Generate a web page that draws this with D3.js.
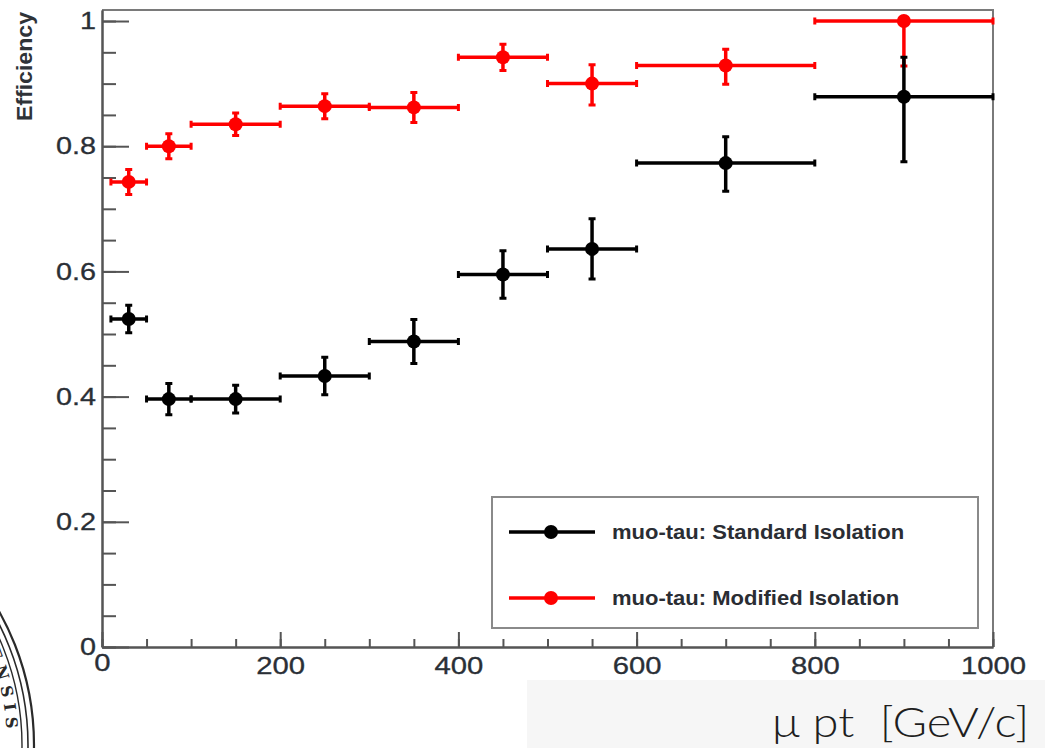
<!DOCTYPE html>
<html>
<head>
<meta charset="utf-8">
<script src="https://cdn.jsdelivr.net/npm/d3@7"></script>
<style>
  body { margin: 0; background: #fff; }
  svg { display: block; }
</style>
</head>
<body>
<div id="chart-area"></div>
<script>
// bins in muon pt (GeV/c)
var binLo = [10, 50, 100, 200, 300, 400, 500, 600, 800];
var binHi = [50, 100, 200, 300, 400, 500, 600, 800, 1000];
var ptCenter = [30, 75, 150, 250, 350, 450, 550, 700, 900];

// muo-tau: Standard Isolation
var stdEff = [0.524, 0.396, 0.396, 0.433, 0.488, 0.595, 0.636, 0.773, 0.879];
var stdErrLo = [0.022, 0.025, 0.022, 0.03, 0.035, 0.038, 0.048, 0.045, 0.104];
var stdErrHi = [0.022, 0.025, 0.022, 0.03, 0.035, 0.038, 0.048, 0.042, 0.063];

// muo-tau: Modified Isolation
var modEff = [0.743, 0.8, 0.835, 0.864, 0.862, 0.942, 0.9, 0.929, 1.0];
var modErrLo = [0.02, 0.02, 0.018, 0.02, 0.024, 0.021, 0.034, 0.03, 0.072];
var modErrHi = [0.02, 0.02, 0.018, 0.02, 0.024, 0.021, 0.03, 0.026, 0.0];

var xMajor = [0, 200, 400, 600, 800, 1000];
var yMajor = [0, 0.2, 0.4, 0.6, 0.8, 1];
var legendLabels = ['muo-tau: Standard Isolation', 'muo-tau: Modified Isolation'];

var W = 1045, H = 748;
var frame = {left: 102, right: 993, top: 10, bottom: 647};

var svg = d3.select('#chart-area')
  .append('svg')
  .attr('width', W)
  .attr('height', H);

var x = d3.scaleLinear().domain([0, 1000]).range([frame.left, frame.right]);
var y = d3.scaleLinear().domain([0, 1.0176]).range([frame.bottom, frame.top]);

// widen labels a bit (the source picture is stretched sideways)
function stretch(sel, k) {
  sel.each(function () {
    var w = this.getComputedTextLength();
    d3.select(this).attr('textLength', w * k).attr('lengthAdjust', 'spacingAndGlyphs');
  });
}

// grey strip behind the x title
svg.append('rect')
  .attr('x', 527).attr('y', 680)
  .attr('width', W - 527).attr('height', H - 680)
  .attr('fill', '#f6f6f6');

// frame top / right
svg.append('path')
  .attr('d', 'M' + frame.left + ',' + frame.top + 'H' + frame.right + 'V' + frame.bottom)
  .attr('fill', 'none')
  .attr('stroke', '#7a7a7a')
  .attr('stroke-width', 2);

// minor ticks
var xMinorAxis = d3.axisBottom(x).tickValues(d3.range(0, 1001, 50))
  .tickSizeInner(-8).tickSizeOuter(0).tickFormat('');
svg.append('g')
  .attr('transform', 'translate(0,' + frame.bottom + ')')
  .call(xMinorAxis);

var yMinorAxis = d3.axisLeft(y).tickValues(d3.range(0, 1.001, 0.05))
  .tickSizeInner(-14).tickSizeOuter(0).tickFormat('');
svg.append('g')
  .attr('transform', 'translate(' + frame.left + ',0)')
  .call(yMinorAxis);

// major ticks + labels
var xAxisCall = d3.axisBottom(x).tickValues(xMajor)
  .tickSizeInner(-15).tickSizeOuter(0).tickPadding(10)
  .tickFormat(d3.format('d'));
var xg = svg.append('g')
  .attr('class', 'x-axis')
  .attr('transform', 'translate(0,' + frame.bottom + ')')
  .call(xAxisCall);

var yAxisCall = d3.axisLeft(y).tickValues(yMajor)
  .tickSizeInner(-27).tickSizeOuter(0).tickPadding(6)
  .tickFormat(function (d) { return d === 0 ? '0' : d === 1 ? '1' : d3.format('.1f')(d); });
var yg = svg.append('g')
  .attr('class', 'y-axis')
  .attr('transform', 'translate(' + frame.left + ',0)')
  .call(yAxisCall);

svg.selectAll('.tick line, .domain')
  .attr('stroke', '#555')
  .attr('stroke-width', 2);

svg.selectAll('.x-axis text, .y-axis text')
  .attr('fill', '#2a2f36')
  .attr('stroke', '#2a2f36')
  .attr('stroke-width', 0.3)
  .attr('font-family', 'Liberation Sans, Arial, sans-serif')
  .attr('font-size', '24px');
stretch(xg.selectAll('text'), 1.22);
stretch(yg.selectAll('text'), 1.2);
xg.selectAll('text').filter(function (d) { return d === 0; }).attr('dy', '0.6em');

// y title
var yTitle = svg.append('text')
  .attr('transform', 'translate(32,12) rotate(-90)')
  .attr('text-anchor', 'end')
  .attr('font-family', 'Liberation Sans, Arial, sans-serif')
  .attr('font-weight', 'bold')
  .attr('font-size', '22px')
  .attr('fill', '#2f3338')
  .text('Efficiency');
stretch(yTitle, 1.05);

// x title
var xTitle = svg.append('text')
  .attr('x', 772).attr('y', 737)
  .attr('font-family', 'Lato, Roboto, sans-serif')
  .attr('font-weight', 300)
  .attr('font-size', '42px')
  .attr('fill', '#1e1e1e')
  .style('white-space', 'pre')
  .text('\u03bc pt\u00a0 [GeV/c]');
stretch(xTitle, 1.12);

// data points with error bars
function drawSeries(vals, lo, hi, color) {
  var rows = vals.map(function (v, i) {
    return {x0: binLo[i], x1: binHi[i], xc: ptCenter[i], v: v, lo: v - lo[i], hi: v + hi[i]};
  });
  var g = svg.append('g')
    .attr('stroke', color)
    .attr('fill', color)
    .attr('stroke-width', 3.5);
  var pts = g.selectAll('g').data(rows).enter().append('g');
  pts.append('line')
    .attr('x1', function (d) { return x(d.x0); })
    .attr('x2', function (d) { return x(d.x1); })
    .attr('y1', function (d) { return y(d.v); })
    .attr('y2', function (d) { return y(d.v); });
  pts.append('line')
    .attr('x1', function (d) { return x(d.xc); })
    .attr('x2', function (d) { return x(d.xc); })
    .attr('y1', function (d) { return y(d.lo); })
    .attr('y2', function (d) { return y(d.hi); });
  // end caps
  pts.append('path')
    .attr('stroke-width', 3)
    .attr('d', function (d) {
      var s = '';
      s += 'M' + x(d.x0) + ',' + (y(d.v) - 3.5) + 'v7';
      s += 'M' + x(d.x1) + ',' + (y(d.v) - 3.5) + 'v7';
      if (d.hi > d.v) s += 'M' + (x(d.xc) - 3.5) + ',' + y(d.hi) + 'h7';
      if (d.lo < d.v) s += 'M' + (x(d.xc) - 3.5) + ',' + y(d.lo) + 'h7';
      return s;
    });
  pts.append('circle')
    .attr('cx', function (d) { return x(d.xc); })
    .attr('cy', function (d) { return y(d.v); })
    .attr('r', 7)
    .attr('stroke', 'none');
}

drawSeries(modEff, modErrLo, modErrHi, '#ff0000');
drawSeries(stdEff, stdErrLo, stdErrHi, '#000000');

// legend
var legend = svg.append('g');
legend.append('rect')
  .attr('x', 492).attr('y', 497)
  .attr('width', 486).attr('height', 131)
  .attr('fill', '#fff')
  .attr('stroke', '#8a8a8a')
  .attr('stroke-width', 2);

var legendColors = ['#000000', '#ff0000'];
var legendY = [532, 598];
legendLabels.forEach(function (label, i) {
  legend.append('line')
    .attr('x1', 509).attr('x2', 595)
    .attr('y1', legendY[i]).attr('y2', legendY[i])
    .attr('stroke', legendColors[i])
    .attr('stroke-width', 3.5);
  legend.append('circle')
    .attr('cx', 551).attr('cy', legendY[i]).attr('r', 7)
    .attr('fill', legendColors[i]);
  var t = legend.append('text')
    .attr('x', 612).attr('y', legendY[i] + 7)
    .attr('font-family', 'Liberation Sans, Arial, sans-serif')
    .attr('font-weight', 'bold')
    .attr('font-size', '20px')
    .attr('fill', '#2a2d33')
    .text(label);
  stretch(t, 1.1);
});

// part of a seal cut off at the lower left
var sc = {x: -239, y: 745};
var seal = svg.append('g').attr('fill', 'none').attr('stroke', '#2a2a2a');
[[273, 2.2], [267, 1.6], [261, 1.4]].forEach(function (c) {
  seal.append('circle').attr('cx', sc.x).attr('cy', sc.y).attr('r', c[0]).attr('stroke-width', c[1]);
});
var a0 = -26 * Math.PI / 180, a1 = 12 * Math.PI / 180, r = 246;
seal.append('path')
  .attr('id', 'sealArc')
  .attr('stroke', 'none')
  .attr('d', 'M' + (sc.x + r * Math.cos(a0)) + ',' + (sc.y + r * Math.sin(a0)) +
    'A' + r + ',' + r + ' 0 0 1 ' + (sc.x + r * Math.cos(a1)) + ',' + (sc.y + r * Math.sin(a1)));
svg.append('text')
  .attr('font-family', 'DejaVu Serif, serif')
  .attr('font-weight', 'bold')
  .attr('font-size', '16px')
  .attr('letter-spacing', '6px')
  .attr('fill', '#2a2a2a')
  .append('textPath')
  .attr('href', '#sealArc')
  .attr('startOffset', 14)
  .text('ENSIS');

// bottom of a cut-off heading letter at the top
svg.append('text')
  .attr('x', 804).attr('y', -10)
  .attr('font-family', 'Lato, Roboto, sans-serif')
  .attr('font-weight', 300)
  .attr('font-size', '56px')
  .attr('fill', '#222')
  .text('g');
</script>
</body>
</html>
